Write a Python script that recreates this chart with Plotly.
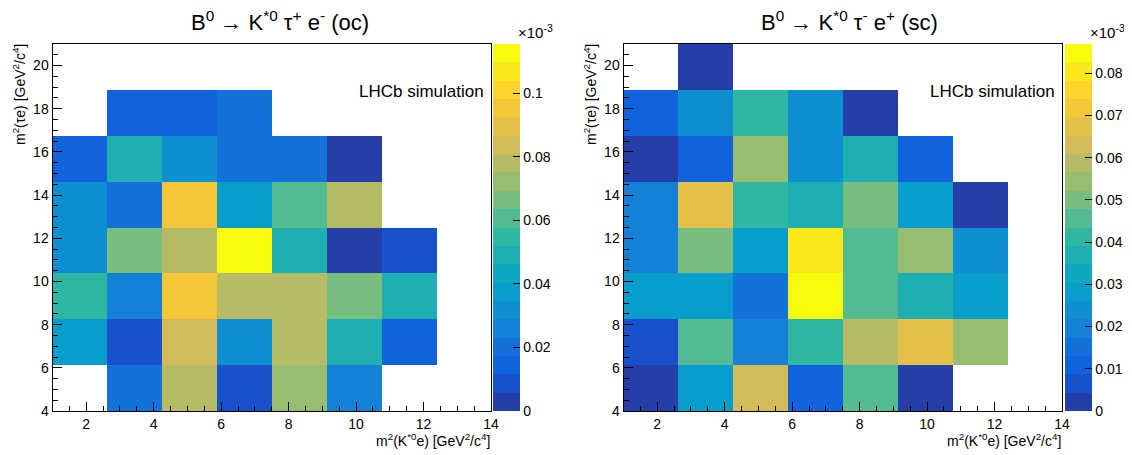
import numpy as np
import plotly.graph_objects as go

# ---------------- data (values in units of 1e-3) ----------------
x_range = [1.0, 14.0]
y_range = [4.0, 21.0]
n_xbins = 8
n_ybins = 8

# rows: y bins from bottom (4) to top (21); columns: x bins from left (1) to right (14)
oc_values = [
    [None, 0.0202, 0.0780, 0.0087, 0.0722, 0.0260, None, None],
    [0.0375, 0.0087, 0.0837, 0.0318, 0.0780, 0.0491, 0.0144, None],
    [0.0549, 0.0260, 0.0953, 0.0780, 0.0780, 0.0664, 0.0491, None],
    [0.0318, 0.0664, 0.0780, 0.1155, 0.0491, 0.0029, 0.0087, None],
    [0.0318, 0.0202, 0.0953, 0.0375, 0.0606, 0.0780, None, None],
    [0.0144, 0.0491, 0.0318, 0.0202, 0.0202, 0.0029, None, None],
    [None, 0.0144, 0.0144, 0.0202, None, None, None, None],
    [None, None, None, None, None, None, None, None],
]
sc_values = [
    [0.0022, 0.0282, 0.0630, 0.0109, 0.0456, 0.0022, None, None],
    [0.0065, 0.0456, 0.0196, 0.0413, 0.0587, 0.0674, 0.0543, None],
    [0.0282, 0.0282, 0.0152, 0.0869, 0.0456, 0.0369, 0.0282, None],
    [0.0196, 0.0500, 0.0282, 0.0804, 0.0456, 0.0543, 0.0239, None],
    [0.0196, 0.0674, 0.0413, 0.0369, 0.0500, 0.0282, 0.0022, None],
    [0.0022, 0.0109, 0.0543, 0.0239, 0.0369, 0.0109, None, None],
    [0.0109, 0.0239, 0.0413, 0.0239, 0.0022, None, None, None],
    [None, 0.0022, None, None, None, None, None, None],
]
oc_title = "B<sup>0</sup> \u2192 K<sup>*0</sup> \u03c4<sup>+</sup> e<sup>-</sup> (oc)"
sc_title = "B<sup>0</sup> \u2192 K<sup>*0</sup> \u03c4<sup>-</sup> e<sup>+</sup> (sc)"
x_label = "m<sup>2</sup>(K<sup>*0</sup>e) [GeV<sup>2</sup>/c<sup>4</sup>]"
y_label = "m<sup>2</sup>(\u03c4e) [GeV<sup>2</sup>/c<sup>4</sup>]"
watermark = "LHCb simulation"
oc_cbar_dtick = 0.02
sc_cbar_dtick = 0.01
n_levels = 20

# ---------------- style ----------------
PAGE_OFF = 8  # default body margin of the html page
W, H = 1132 - PAGE_OFF, 455 - PAGE_OFF
FONT = "Liberation Sans, Arial, Helvetica, sans-serif"

# ROOT kBird palette
bird_stops = [0.0, 0.125, 0.25, 0.375, 0.5, 0.625, 0.75, 0.875, 1.0]
bird_r = [0.2082, 0.0592, 0.0780, 0.0232, 0.1802, 0.5301, 0.8186, 0.9956, 0.9764]
bird_g = [0.1664, 0.3599, 0.5041, 0.6419, 0.7178, 0.7492, 0.7328, 0.7862, 0.9832]
bird_b = [0.5293, 0.8684, 0.8385, 0.7914, 0.6425, 0.4662, 0.3499, 0.1968, 0.0539]


def bird(f):
    r = np.interp(f, bird_stops, bird_r)
    g = np.interp(f, bird_stops, bird_g)
    b = np.interp(f, bird_stops, bird_b)
    return "rgb(%d,%d,%d)" % (round(r * 255), round(g * 255), round(b * 255))


# discrete 20-level colorscale like ROOT COLZ
cscale = []
for i in range(n_levels):
    c = bird(min(1.0, (i + 0.99) * 12.75 / 254.0))
    cscale.append([i / n_levels, c])
    cscale.append([(i + 1) / n_levels, c])

x_edges = np.linspace(x_range[0], x_range[1], n_xbins + 1)
y_edges = np.linspace(y_range[0], y_range[1], n_ybins + 1)


def px_x(p):
    return (p - PAGE_OFF) / W


def px_y(p):
    return 1 - (p - PAGE_OFF) / H


panels = [
    dict(vals=oc_values, title=oc_title, dtick=oc_cbar_dtick,
         x0=52.5, x1=491.0, cb=493.0, title_x=280),
    dict(vals=sc_values, title=sc_title, dtick=sc_cbar_dtick,
         x0=623.5, x1=1062.0, cb=1064.5, title_x=849),
]
plot_top, plot_bot = 44.0, 411.0
CB_T = 26.5

fig = go.Figure()
annotations = []
shapes = []
for k, p in enumerate(panels):
    z = np.array([[np.nan if v is None else v for v in row] for row in p["vals"]], dtype=float)
    zmax = float(np.nanmax(z))
    xa = "x" if k == 0 else "x2"
    ya = "y" if k == 0 else "y2"
    fig.add_trace(go.Heatmap(
        z=z, x=x_edges, y=y_edges, xaxis=xa, yaxis=ya,
        zmin=0, zmax=zmax, colorscale=cscale, hoverongaps=False,
        colorbar=dict(
            x=px_x(p["cb"]), xanchor="left", xpad=0, ypad=0,
            y=px_y(plot_bot), yanchor="bottom",
            len=(plot_bot - plot_top) / H, lenmode="fraction",
            thickness=CB_T, thicknessmode="pixels",
            outlinewidth=0,
            tickmode="linear", tick0=0, dtick=p["dtick"],
            ticks="inside", ticklen=7, tickcolor="black", tickwidth=1,
            tickfont=dict(family=FONT, size=14, color="black"),
        ),
    ))
    # colorbar right axis line
    shapes.append(dict(type="line", xref="paper", yref="paper",
                       x0=px_x(p["cb"] + CB_T), x1=px_x(p["cb"] + CB_T),
                       y0=px_y(plot_bot), y1=px_y(plot_top),
                       line=dict(color="black", width=1)))
    axis_common = dict(
        showline=True, mirror=True, linecolor="black", linewidth=1,
        showgrid=False, zeroline=False, ticks="inside", tickcolor="black",
        tickwidth=1, ticklen=9, tickmode="linear", tick0=0, dtick=2,
        tickfont=dict(family=FONT, size=14, color="black"),
        minor=dict(ticks="inside", dtick=0.5, tick0=0, ticklen=5,
                   tickcolor="black", showgrid=False),
        automargin=False,
    )
    xd = dict(axis_common, domain=[px_x(p["x0"]), px_x(p["x1"])],
              range=x_range, anchor=ya)
    yd = dict(axis_common, domain=[px_y(plot_bot), px_y(plot_top)],
              range=y_range, anchor=xa)
    if k == 0:
        fig.update_layout(xaxis=xd, yaxis=yd)
    else:
        fig.update_layout(xaxis2=xd, yaxis2=yd)

    # title
    annotations.append(dict(text=p["title"], xref="paper", yref="paper",
                            x=px_x(p["title_x"]), y=px_y(21), xanchor="center",
                            yanchor="middle", showarrow=False,
                            font=dict(family=FONT, size=22, color="black")))
    # x axis title
    annotations.append(dict(text=x_label, xref="paper", yref="paper",
                            x=px_x(p["x1"] + 1), y=px_y(440), xanchor="right",
                            yanchor="middle", showarrow=False,
                            font=dict(family=FONT, size=14, color="black")))
    # y axis title
    annotations.append(dict(text=y_label, xref="paper", yref="paper",
                            x=px_x(p["x0"] - 34), y=px_y(plot_top - 2), xanchor="center",
                            yanchor="top", textangle=-90, showarrow=False,
                            font=dict(family=FONT, size=14, color="black")))
    # watermark
    annotations.append(dict(text=watermark, xref="paper", yref="paper",
                            x=px_x(p["x1"] - 5), y=px_y(91.5), xanchor="right",
                            yanchor="middle", showarrow=False,
                            font=dict(family=FONT, size=17, color="black")))
    # exponent label on colorbar
    annotations.append(dict(text="\u00d710<sup>-3</sup>", xref="paper", yref="paper",
                            x=px_x(p["cb"] + 23), y=px_y(plot_top - 1), xanchor="left",
                            yanchor="bottom", showarrow=False,
                            font=dict(family=FONT, size=15, color="black")))

fig.update_layout(
    width=W, height=H, margin=dict(l=0, r=0, t=0, b=0),
    paper_bgcolor="white", plot_bgcolor="white",
    annotations=annotations, shapes=shapes, showlegend=False,
)
fig.write_html("out.html")
